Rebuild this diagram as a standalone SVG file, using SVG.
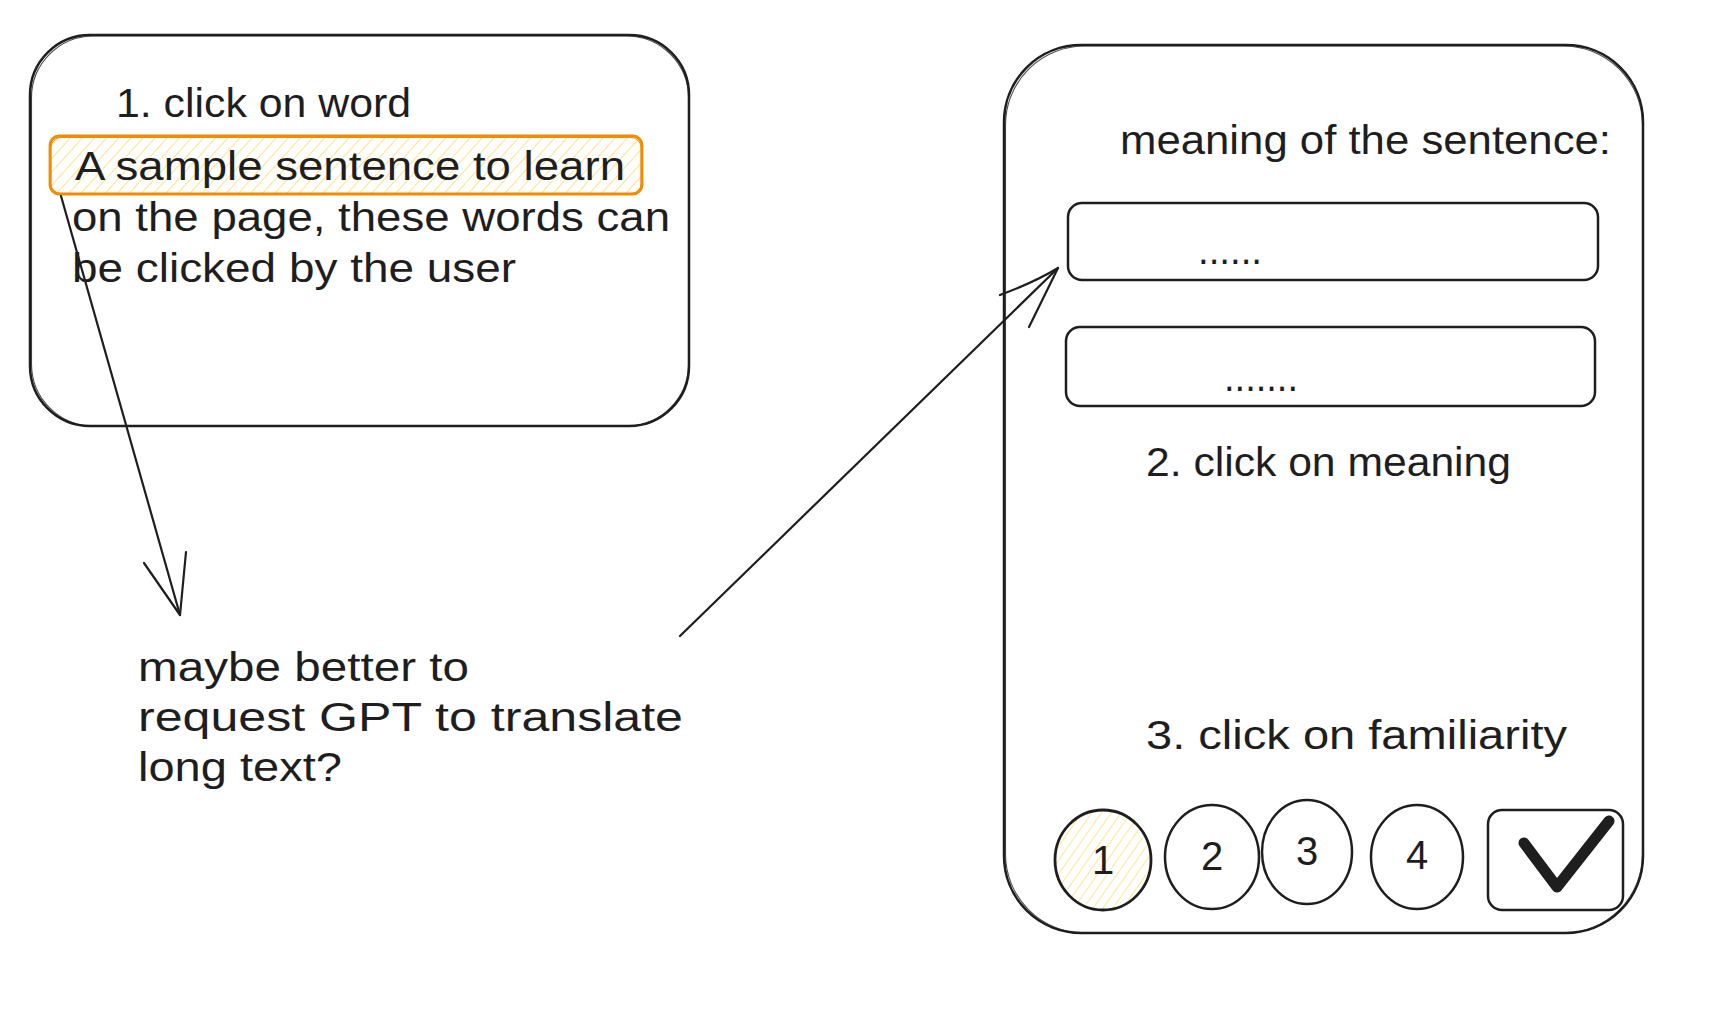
<svg xmlns="http://www.w3.org/2000/svg" width="1728" height="1013" viewBox="0 0 1728 1013">
  <defs>
    <pattern id="hatchOrange" width="9" height="9" patternUnits="userSpaceOnUse" patternTransform="rotate(42)">
      <line x1="0" y1="0" x2="0" y2="9" stroke="#ffdf80" stroke-width="1.8"/>
    </pattern>
    <pattern id="hatchYellow" width="8" height="8" patternUnits="userSpaceOnUse" patternTransform="rotate(35)">
      <line x1="0" y1="0" x2="0" y2="8" stroke="#ffe38a" stroke-width="1.8"/>
    </pattern>
    <style>
      .box { fill: none; stroke: #1e1e1e; stroke-width: 2.5; stroke-linejoin: round; }
      .box2 { fill: none; stroke: #1e1e1e; stroke-width: 1.1; opacity: 0.8; }
      .txt { font-family: "Liberation Sans", "Noto Sans", sans-serif; font-size: 40px; fill: #1e1e1e; }
      .conn { fill: none; stroke: #1e1e1e; stroke-width: 2.2; stroke-linecap: round; stroke-linejoin: round; }
    </style>
  </defs>
  <rect width="1728" height="1013" fill="#ffffff"/>

  <g id="left-card">
    <rect class="box" x="30" y="35" width="659" height="391" rx="60"/>
    <rect class="box2" x="31.5" y="36" width="657" height="390" rx="62"/>
    <text class="txt" x="116" y="117" textLength="295" lengthAdjust="spacingAndGlyphs">1. click on word</text>
  </g>

  <g id="highlight-sentence">
    <rect x="50" y="136" width="592" height="58" rx="9" fill="url(#hatchOrange)" stroke="#f08c00" stroke-width="2.8"/>
    <rect x="51" y="137.5" width="590" height="56" rx="10" fill="none" stroke="#f08c00" stroke-width="1"/>
    <text class="txt" x="75" y="180" textLength="550" lengthAdjust="spacingAndGlyphs">A sample sentence to learn</text>
  </g>

  <g id="page-text">
    <text class="txt" x="72" y="231" textLength="598" lengthAdjust="spacingAndGlyphs">on the page, these words can</text>
    <text class="txt" x="72" y="282" textLength="444" lengthAdjust="spacingAndGlyphs">be clicked by the user</text>
  </g>

  <g id="note">
    <text class="txt" x="138" y="681" textLength="331" lengthAdjust="spacingAndGlyphs">maybe better to</text>
    <text class="txt" x="138" y="731" textLength="545" lengthAdjust="spacingAndGlyphs">request GPT to translate</text>
    <text class="txt" x="138" y="781" textLength="204" lengthAdjust="spacingAndGlyphs">long text?</text>
  </g>

  <g id="right-card">
    <rect class="box" x="1004" y="45" width="639" height="888" rx="77"/>
    <rect class="box2" x="1005.5" y="46" width="637" height="887" rx="79"/>
    <text class="txt" x="1120" y="154" textLength="491" lengthAdjust="spacingAndGlyphs">meaning of the sentence:</text>
  </g>

  <g id="meaning-1">
    <rect class="box" x="1068" y="203" width="530" height="77" rx="14"/>
    <text class="txt" x="1198" y="264" textLength="64" lengthAdjust="spacingAndGlyphs">......</text>
  </g>

  <g id="meaning-2">
    <rect class="box" x="1066" y="327" width="529" height="79" rx="14"/>
    <text class="txt" x="1224" y="391" textLength="74" lengthAdjust="spacingAndGlyphs">.......</text>
  </g>

  <g id="label-meaning">
    <text class="txt" x="1146" y="476" textLength="365" lengthAdjust="spacingAndGlyphs">2. click on meaning</text>
  </g>

  <g id="label-familiarity">
    <text class="txt" x="1146" y="749" textLength="421" lengthAdjust="spacingAndGlyphs">3. click on familiarity</text>
  </g>

  <g id="level-1">
    <ellipse cx="1103" cy="860" rx="48" ry="50" fill="url(#hatchYellow)" stroke="#1e1e1e" stroke-width="2.8"/>
    <text class="txt" x="1103" y="874" text-anchor="middle">1</text>
  </g>
  <g id="level-2">
    <ellipse class="box" cx="1212" cy="857" rx="47" ry="52"/>
    <text class="txt" x="1212" y="870" text-anchor="middle">2</text>
  </g>
  <g id="level-3">
    <ellipse class="box" cx="1307" cy="852" rx="45" ry="52"/>
    <text class="txt" x="1307" y="865" text-anchor="middle">3</text>
  </g>
  <g id="level-4">
    <ellipse class="box" cx="1417" cy="857" rx="46" ry="52"/>
    <text class="txt" x="1417" y="869" text-anchor="middle">4</text>
  </g>

  <g id="confirm">
    <rect class="box" x="1488" y="810" width="135" height="100" rx="14"/>
    <path d="M1524 843 L1557 887 L1609 821" fill="none" stroke="#1e1e1e" stroke-width="11" stroke-linecap="round" stroke-linejoin="round"/>
  </g>

  <g id="connectors">
    <path class="conn" d="M61 196 L180 615"/>
    <path class="conn" d="M144 563 L180 615 L186 552"/>
    <path class="conn" d="M680 636 L1058 268"/>
    <path class="conn" d="M1000 295 Q1035 282 1058 268 L1029 327"/>
  </g>
</svg>
